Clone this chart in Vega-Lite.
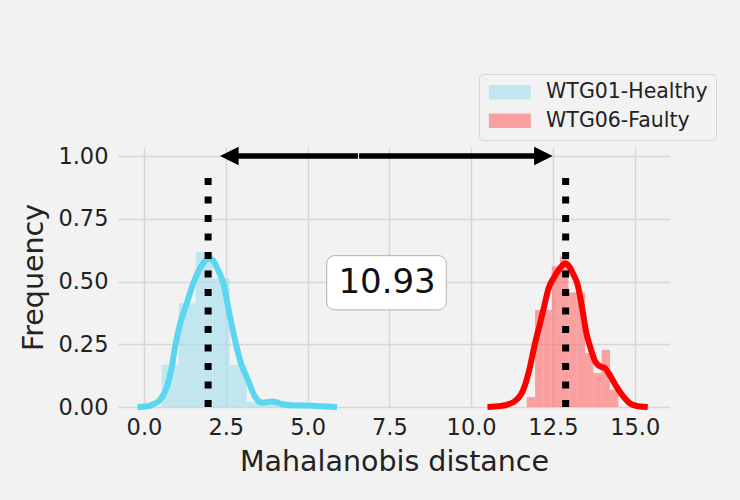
{
  "$schema": "https://vega.github.io/schema/vega-lite/v6.json",
  "autosize": {"type": "none"},
  "width": 552,
  "height": 260,
  "padding": {"left": 118, "top": 147, "right": 70, "bottom": 93},
  "background": "#f2f2f2",
  "config": {
    "view": {"stroke": null},
    "font": "DejaVu Sans",
    "axis": {
      "grid": true, "gridColor": "#d6d6d6", "gridWidth": 1.5,
      "domain": false, "ticks": false, "tickSize": 0,
      "labelFont": "DejaVu Sans", "labelFontSize": 22.5, "labelColor": "#222",
      "titleFont": "DejaVu Sans", "titleFontSize": 28.5, "titleFontWeight": "normal", "titleColor": "#222"
    },
    "legend": {
      "orient": "none", "legendX": 361, "legendY": -73,
      "padding": 8, "fillColor": "#f2f2f2", "strokeColor": "#d4d4d4", "cornerRadius": 4,
      "labelFont": "DejaVu Sans", "labelFontSize": 20.5, "labelColor": "#222", "labelLimit": 400,
      "symbolType": "M-2.5,-0.85H2.5V0.85H-2.5Z", "symbolSize": 282, "symbolOpacity": 0.6,
      "symbolStrokeWidth": 0, "symbolOffset": 12.6, "labelOffset": 26, "rowPadding": 7.5
    }
  },
  "datasets": {
    "bars": [
      {"series": "WTG01-Healthy", "x0": 0.541, "x1": 1.061, "freq": 0.168},
      {"series": "WTG01-Healthy", "x0": 1.061, "x1": 1.581, "freq": 0.413},
      {"series": "WTG01-Healthy", "x0": 1.581, "x1": 2.101, "freq": 0.618},
      {"series": "WTG01-Healthy", "x0": 2.101, "x1": 2.621, "freq": 0.513},
      {"series": "WTG01-Healthy", "x0": 2.621, "x1": 3.141, "freq": 0.168},
      {"series": "WTG01-Healthy", "x0": 3.141, "x1": 3.661, "freq": 0.02},
      {"series": "WTG01-Healthy", "x0": 3.661, "x1": 4.181, "freq": 0.02},
      {"series": "WTG01-Healthy", "x0": 4.701, "x1": 5.221, "freq": 0.01},
      {"series": "WTG06-Faulty", "x0": 11.70, "x1": 11.955, "freq": 0.04},
      {"series": "WTG06-Faulty", "x0": 11.955, "x1": 12.21, "freq": 0.387},
      {"series": "WTG06-Faulty", "x0": 12.21, "x1": 12.464, "freq": 0.387},
      {"series": "WTG06-Faulty", "x0": 12.464, "x1": 12.719, "freq": 0.56},
      {"series": "WTG06-Faulty", "x0": 12.719, "x1": 12.974, "freq": 0.60},
      {"series": "WTG06-Faulty", "x0": 12.974, "x1": 13.228, "freq": 0.456},
      {"series": "WTG06-Faulty", "x0": 13.228, "x1": 13.483, "freq": 0.456},
      {"series": "WTG06-Faulty", "x0": 13.483, "x1": 13.738, "freq": 0.215},
      {"series": "WTG06-Faulty", "x0": 13.738, "x1": 13.992, "freq": 0.135},
      {"series": "WTG06-Faulty", "x0": 13.992, "x1": 14.247, "freq": 0.228},
      {"series": "WTG06-Faulty", "x0": 14.247, "x1": 14.502, "freq": 0.069}
    ],
    "kde": [
      {"series": "WTG01-Healthy", "x": -0.2, "y": 0},
      {"series": "WTG01-Healthy", "x": 0.1, "y": 0.003},
      {"series": "WTG01-Healthy", "x": 0.3, "y": 0.012},
      {"series": "WTG01-Healthy", "x": 0.5, "y": 0.03},
      {"series": "WTG01-Healthy", "x": 0.7, "y": 0.08},
      {"series": "WTG01-Healthy", "x": 0.85, "y": 0.16},
      {"series": "WTG01-Healthy", "x": 0.95, "y": 0.24},
      {"series": "WTG01-Healthy", "x": 1.1, "y": 0.33},
      {"series": "WTG01-Healthy", "x": 1.3, "y": 0.41},
      {"series": "WTG01-Healthy", "x": 1.5, "y": 0.49},
      {"series": "WTG01-Healthy", "x": 1.7, "y": 0.55},
      {"series": "WTG01-Healthy", "x": 1.85, "y": 0.58},
      {"series": "WTG01-Healthy", "x": 1.97, "y": 0.592},
      {"series": "WTG01-Healthy", "x": 2.1, "y": 0.585},
      {"series": "WTG01-Healthy", "x": 2.25, "y": 0.55},
      {"series": "WTG01-Healthy", "x": 2.43, "y": 0.49},
      {"series": "WTG01-Healthy", "x": 2.63, "y": 0.36},
      {"series": "WTG01-Healthy", "x": 2.83, "y": 0.24},
      {"series": "WTG01-Healthy", "x": 3.0, "y": 0.16},
      {"series": "WTG01-Healthy", "x": 3.14, "y": 0.12},
      {"series": "WTG01-Healthy", "x": 3.39, "y": 0.042},
      {"series": "WTG01-Healthy", "x": 3.6, "y": 0.018},
      {"series": "WTG01-Healthy", "x": 3.8, "y": 0.02},
      {"series": "WTG01-Healthy", "x": 3.95, "y": 0.022},
      {"series": "WTG01-Healthy", "x": 4.2, "y": 0.012},
      {"series": "WTG01-Healthy", "x": 4.6, "y": 0.006},
      {"series": "WTG01-Healthy", "x": 5.0, "y": 0.006},
      {"series": "WTG01-Healthy", "x": 5.4, "y": 0.003},
      {"series": "WTG01-Healthy", "x": 5.9, "y": 0},
      {"series": "WTG06-Faulty", "x": 10.5, "y": 0},
      {"series": "WTG06-Faulty", "x": 10.9, "y": 0.004},
      {"series": "WTG06-Faulty", "x": 11.3, "y": 0.02},
      {"series": "WTG06-Faulty", "x": 11.6, "y": 0.07},
      {"series": "WTG06-Faulty", "x": 11.8, "y": 0.16},
      {"series": "WTG06-Faulty", "x": 11.93, "y": 0.24},
      {"series": "WTG06-Faulty", "x": 12.1, "y": 0.33},
      {"series": "WTG06-Faulty", "x": 12.25, "y": 0.41},
      {"series": "WTG06-Faulty", "x": 12.36, "y": 0.47},
      {"series": "WTG06-Faulty", "x": 12.55, "y": 0.52},
      {"series": "WTG06-Faulty", "x": 12.7, "y": 0.55},
      {"series": "WTG06-Faulty", "x": 12.87, "y": 0.572},
      {"series": "WTG06-Faulty", "x": 13.0, "y": 0.56},
      {"series": "WTG06-Faulty", "x": 13.12, "y": 0.53},
      {"series": "WTG06-Faulty", "x": 13.25, "y": 0.49},
      {"series": "WTG06-Faulty", "x": 13.4, "y": 0.39},
      {"series": "WTG06-Faulty", "x": 13.53, "y": 0.29},
      {"series": "WTG06-Faulty", "x": 13.64, "y": 0.24},
      {"series": "WTG06-Faulty", "x": 13.8, "y": 0.18},
      {"series": "WTG06-Faulty", "x": 13.94, "y": 0.162},
      {"series": "WTG06-Faulty", "x": 14.09, "y": 0.155},
      {"series": "WTG06-Faulty", "x": 14.25, "y": 0.125},
      {"series": "WTG06-Faulty", "x": 14.45, "y": 0.08},
      {"series": "WTG06-Faulty", "x": 14.65, "y": 0.042},
      {"series": "WTG06-Faulty", "x": 14.85, "y": 0.015},
      {"series": "WTG06-Faulty", "x": 15.1, "y": 0.003},
      {"series": "WTG06-Faulty", "x": 15.4, "y": 0}
    ],
    "vlines": [
      {"x": 1.96, "y0": 0, "y1": 0.95},
      {"x": 12.89, "y0": 0, "y1": 0.95}
    ],
    "arrowseg": [
      {"x0": 2.6, "x1": 6.54, "y": 1.0},
      {"x0": 6.575, "x1": 12.21, "y": 1.0}
    ],
    "heads": [
      {"x": 2.608, "y": 1.0, "side": "left"},
      {"x": 12.21, "y": 1.0, "side": "right"}
    ],
    "box": [
      {"x0": 5.585, "x1": 9.24, "y0": 0.387, "y1": 0.603, "label": "10.93", "tx": 7.43, "ty": 0.453}
    ]
  },
  "layer": [
    {
      "data": {"name": "bars"},
      "mark": {"type": "rect", "opacity": 0.6, "strokeWidth": 0},
      "encoding": {
        "x": {"field": "x0", "type": "quantitative",
              "scale": {"domain": [-0.795, 16.08], "nice": false, "zero": false},
              "axis": {"values": [0, 2.5, 5, 7.5, 10, 12.5, 15], "format": ".1f", "labelPadding": 27, "labelBaseline": "alphabetic",
                       "title": "Mahalanobis distance", "titleY": 63, "titleBaseline": "alphabetic"}},
        "x2": {"field": "x1"},
        "y": {"field": "freq", "type": "quantitative",
              "scale": {"domain": [0, 1.036], "nice": false},
              "axis": {"values": [0, 0.25, 0.5, 0.75, 1.0], "format": ".2f", "labelPadding": 10,
                       "title": "Frequency", "titleX": -76, "titleY": 130, "titleAngle": 270, "titleAlign": "center", "titleBaseline": "alphabetic"}},
        "y2": {"datum": 0},
        "color": {"field": "series", "type": "nominal",
                  "scale": {"domain": ["WTG01-Healthy", "WTG06-Faulty"], "range": ["#a2deef", "#ff6969"]},
                  "legend": {"title": null}}
      }
    },
    {
      "data": {"name": "kde"},
      "transform": [{"filter": "datum.series === 'WTG01-Healthy'"}],
      "mark": {"type": "line", "color": "#5ad6f0", "strokeWidth": 6, "interpolate": "monotone"},
      "encoding": {
        "x": {"field": "x", "type": "quantitative"},
        "y": {"field": "y", "type": "quantitative"}
      }
    },
    {
      "data": {"name": "kde"},
      "transform": [{"filter": "datum.series === 'WTG06-Faulty'"}],
      "mark": {"type": "line", "color": "#ff0000", "strokeWidth": 6, "interpolate": "monotone"},
      "encoding": {
        "x": {"field": "x", "type": "quantitative"},
        "y": {"field": "y", "type": "quantitative"}
      }
    },
    {
      "data": {"name": "vlines"},
      "mark": {"type": "rule", "color": "#000", "strokeWidth": 7, "strokeDash": [7, 11.5]},
      "encoding": {
        "x": {"field": "x", "type": "quantitative"},
        "y": {"field": "y0", "type": "quantitative"},
        "y2": {"field": "y1"}
      }
    },
    {
      "data": {"name": "arrowseg"},
      "mark": {"type": "rule", "color": "#000", "strokeWidth": 5.5},
      "encoding": {
        "x": {"field": "x0", "type": "quantitative"},
        "x2": {"field": "x1"},
        "y": {"field": "y", "type": "quantitative"}
      }
    },
    {
      "data": {"name": "heads"},
      "transform": [{"filter": "datum.side === 'left'"}],
      "mark": {"type": "point", "shape": "M-1,0L1,-1L1,1Z", "size": 346, "filled": true, "color": "#000", "opacity": 1},
      "encoding": {
        "x": {"field": "x", "type": "quantitative"},
        "y": {"field": "y", "type": "quantitative"}
      }
    },
    {
      "data": {"name": "heads"},
      "transform": [{"filter": "datum.side === 'right'"}],
      "mark": {"type": "point", "shape": "M1,0L-1,-1L-1,1Z", "size": 346, "filled": true, "color": "#000", "opacity": 1},
      "encoding": {
        "x": {"field": "x", "type": "quantitative"},
        "y": {"field": "y", "type": "quantitative"}
      }
    },
    {
      "data": {"name": "box"},
      "mark": {"type": "rect", "fill": "#ffffff", "stroke": "#b0b0b0", "strokeWidth": 1, "cornerRadius": 8},
      "encoding": {
        "x": {"field": "x0", "type": "quantitative"},
        "x2": {"field": "x1"},
        "y": {"field": "y0", "type": "quantitative"},
        "y2": {"field": "y1"}
      }
    },
    {
      "data": {"name": "box"},
      "mark": {"type": "text", "fontSize": 34, "font": "DejaVu Sans", "color": "#111", "align": "center", "baseline": "alphabetic"},
      "encoding": {
        "x": {"field": "tx", "type": "quantitative"},
        "y": {"field": "ty", "type": "quantitative"},
        "text": {"field": "label"}
      }
    }
  ]
}
